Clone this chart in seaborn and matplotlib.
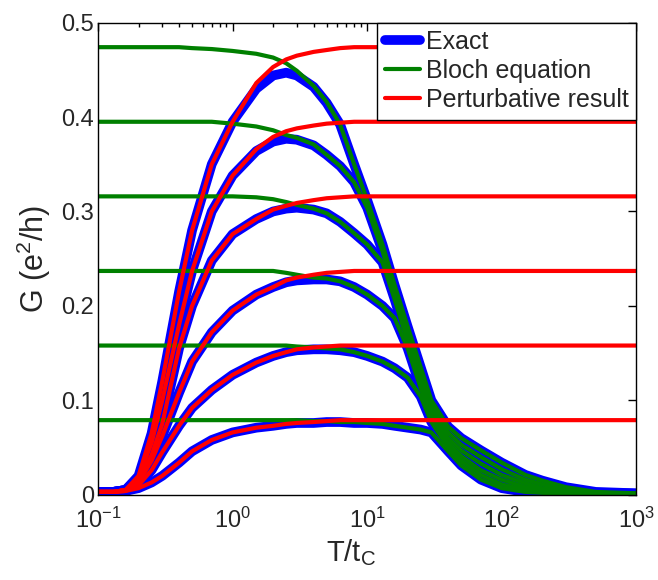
import numpy as np
import pandas as pd
import seaborn as sns
import matplotlib.pyplot as plt
from matplotlib.lines import Line2D

# temperature grid (T / t_C), shared by every curve
T = [0.1, 0.13, 0.16, 0.2, 0.25, 0.3, 0.4, 0.5, 0.7, 1, 1.5, 2, 2.5, 3, 4, 5, 6.3,
     8, 10, 13, 16, 20, 25, 30, 40, 50, 70, 100, 150, 200, 300, 500, 1000]

# exact conductance, one curve per level n
exact_1 = [0.003, 0.003, 0.004, 0.007, 0.013, 0.020, 0.034, 0.046, 0.058, 0.066, 0.071,
           0.073, 0.075, 0.076, 0.076, 0.077, 0.077, 0.076, 0.076, 0.075, 0.073, 0.071,
           0.069, 0.066, 0.046, 0.031, 0.016, 0.007, 0.003, 0.002, 0.001, 0.001, 0.001]
exact_2 = [0.003, 0.003, 0.004, 0.010, 0.026, 0.045, 0.073, 0.092, 0.111, 0.127, 0.140,
           0.147, 0.151, 0.153, 0.154, 0.154, 0.153, 0.151, 0.147, 0.141, 0.134, 0.124,
           0.104, 0.077, 0.050, 0.036, 0.021, 0.011, 0.005, 0.003, 0.0015, 0.001, 0.001]
exact_3 = [0.003, 0.003, 0.005, 0.013, 0.036, 0.062, 0.108, 0.141, 0.172, 0.195, 0.212,
           0.220, 0.225, 0.227, 0.228, 0.228, 0.226, 0.220, 0.212, 0.200, 0.187, 0.155,
           0.113, 0.082, 0.055, 0.041, 0.026, 0.016, 0.008, 0.005, 0.002, 0.001, 0.001]
exact_4 = [0.003, 0.003, 0.005, 0.015, 0.042, 0.075, 0.155, 0.200, 0.248, 0.276, 0.292,
           0.300, 0.303, 0.304, 0.302, 0.298, 0.289, 0.277, 0.265, 0.246, 0.207, 0.162,
           0.120, 0.088, 0.060, 0.047, 0.033, 0.021, 0.012, 0.007, 0.003, 0.0015, 0.001]
exact_5 = [0.003, 0.003, 0.005, 0.018, 0.055, 0.100, 0.180, 0.237, 0.300, 0.338, 0.364,
           0.374, 0.377, 0.376, 0.370, 0.360, 0.348, 0.331, 0.304, 0.258, 0.214, 0.170,
           0.127, 0.094, 0.066, 0.053, 0.040, 0.027, 0.016, 0.011, 0.005, 0.002, 0.001]
exact_6 = [0.003, 0.003, 0.005, 0.020, 0.065, 0.120, 0.215, 0.280, 0.350, 0.395, 0.430,
           0.444, 0.447, 0.444, 0.432, 0.415, 0.392, 0.350, 0.312, 0.265, 0.222, 0.178,
           0.135, 0.100, 0.072, 0.060, 0.047, 0.034, 0.021, 0.015, 0.008, 0.003, 0.0015]

# Bloch equation
bloch_1 = [0.079, 0.079, 0.079, 0.079, 0.079, 0.079, 0.079, 0.079, 0.079, 0.079, 0.079,
           0.079, 0.079, 0.079, 0.078, 0.078, 0.077, 0.077, 0.076, 0.075, 0.073, 0.071,
           0.069, 0.066, 0.046, 0.031, 0.016, 0.007, 0.003, 0.002, 0.001, 0.001, 0.001]
bloch_2 = [0.158, 0.158, 0.158, 0.158, 0.158, 0.158, 0.158, 0.158, 0.158, 0.158, 0.158,
           0.158, 0.158, 0.157, 0.156, 0.155, 0.154, 0.151, 0.147, 0.141, 0.134, 0.124,
           0.104, 0.077, 0.050, 0.036, 0.021, 0.011, 0.005, 0.003, 0.0015, 0.001, 0.001]
bloch_3 = [0.237, 0.237, 0.237, 0.237, 0.237, 0.237, 0.237, 0.237, 0.237, 0.237, 0.237,
           0.237, 0.235, 0.233, 0.230, 0.229, 0.226, 0.220, 0.212, 0.200, 0.187, 0.155,
           0.113, 0.082, 0.055, 0.041, 0.026, 0.016, 0.008, 0.005, 0.002, 0.001, 0.001]
bloch_4 = [0.316, 0.316, 0.316, 0.316, 0.316, 0.316, 0.316, 0.316, 0.316, 0.316, 0.315,
           0.313, 0.310, 0.307, 0.303, 0.298, 0.289, 0.277, 0.265, 0.246, 0.207, 0.162,
           0.120, 0.088, 0.060, 0.047, 0.033, 0.021, 0.012, 0.007, 0.003, 0.0015, 0.001]
bloch_5 = [0.395, 0.395, 0.395, 0.395, 0.395, 0.395, 0.395, 0.395, 0.395, 0.393, 0.390,
           0.386, 0.381, 0.378, 0.371, 0.360, 0.348, 0.331, 0.304, 0.258, 0.214, 0.170,
           0.127, 0.094, 0.066, 0.053, 0.040, 0.027, 0.016, 0.011, 0.005, 0.002, 0.001]
bloch_6 = [0.474, 0.474, 0.474, 0.474, 0.474, 0.474, 0.474, 0.473, 0.472, 0.470, 0.467,
           0.463, 0.457, 0.449, 0.433, 0.416, 0.392, 0.350, 0.312, 0.265, 0.222, 0.178,
           0.135, 0.100, 0.072, 0.060, 0.047, 0.034, 0.021, 0.015, 0.008, 0.003, 0.0015]

# perturbative result
pert_1 = [0.003, 0.003, 0.004, 0.007, 0.013, 0.020, 0.034, 0.046, 0.058, 0.066, 0.071,
          0.073, 0.075, 0.076, 0.077, 0.078, 0.079, 0.079, 0.079, 0.079, 0.079, 0.079,
          0.079, 0.079, 0.079, 0.079, 0.079, 0.079, 0.079, 0.079, 0.079, 0.079, 0.079]
pert_2 = [0.003, 0.003, 0.004, 0.010, 0.026, 0.045, 0.073, 0.092, 0.111, 0.127, 0.140,
          0.147, 0.151, 0.154, 0.156, 0.157, 0.158, 0.158, 0.158, 0.158, 0.158, 0.158,
          0.158, 0.158, 0.158, 0.158, 0.158, 0.158, 0.158, 0.158, 0.158, 0.158, 0.158]
pert_3 = [0.003, 0.003, 0.005, 0.013, 0.036, 0.062, 0.108, 0.141, 0.172, 0.195, 0.212,
          0.220, 0.227, 0.230, 0.233, 0.235, 0.236, 0.237, 0.237, 0.237, 0.237, 0.237,
          0.237, 0.237, 0.237, 0.237, 0.237, 0.237, 0.237, 0.237, 0.237, 0.237, 0.237]
pert_4 = [0.003, 0.003, 0.005, 0.015, 0.042, 0.075, 0.155, 0.200, 0.248, 0.276, 0.292,
          0.302, 0.306, 0.309, 0.312, 0.314, 0.315, 0.316, 0.316, 0.316, 0.316, 0.316,
          0.316, 0.316, 0.316, 0.316, 0.316, 0.316, 0.316, 0.316, 0.316, 0.316, 0.316]
pert_5 = [0.003, 0.003, 0.005, 0.018, 0.055, 0.100, 0.180, 0.237, 0.300, 0.338, 0.366,
          0.379, 0.385, 0.388, 0.391, 0.393, 0.394, 0.395, 0.395, 0.395, 0.395, 0.395,
          0.395, 0.395, 0.395, 0.395, 0.395, 0.395, 0.395, 0.395, 0.395, 0.395, 0.395]
pert_6 = [0.003, 0.003, 0.005, 0.020, 0.065, 0.120, 0.215, 0.280, 0.350, 0.395, 0.436,
          0.453, 0.461, 0.465, 0.469, 0.471, 0.473, 0.474, 0.474, 0.474, 0.474, 0.474,
          0.474, 0.474, 0.474, 0.474, 0.474, 0.474, 0.474, 0.474, 0.474, 0.474, 0.474]

y_ticks = [0, 0.1, 0.2, 0.3, 0.4, 0.5]
y_ticklabels = ['0', '0.1', '0.2', '0.3', '0.4', '0.5']
x_ticks = [0.1, 1, 10, 100, 1000]


def long_frame(curves):
    parts = [pd.DataFrame({'T': T, 'G': vals, 'n': n}) for n, vals in enumerate(curves, 1)]
    return pd.concat(parts, ignore_index=True)


exact = long_frame([exact_1, exact_2, exact_3, exact_4, exact_5, exact_6])
bloch = long_frame([bloch_1, bloch_2, bloch_3, bloch_4, bloch_5, bloch_6])
pert = long_frame([pert_1, pert_2, pert_3, pert_4, pert_5, pert_6])

sns.set_style('white')
plt.rcParams['font.family'] = ['Liberation Sans', 'DejaVu Sans']
plt.rcParams['mathtext.fontset'] = 'custom'
plt.rcParams['mathtext.rm'] = 'Liberation Sans'
plt.rcParams['mathtext.it'] = 'Liberation Sans:italic'

blue = (0, 0, 1)
green = (0, 0.5, 0)
red = (1, 0, 0)

fig, ax = plt.subplots(figsize=(6.58, 5.8), dpi=100)
fig.subplots_adjust(left=0.149, right=0.967, bottom=0.147, top=0.961)

sns.lineplot(data=exact, x='T', y='G', units='n', estimator=None, sort=False,
             color=blue, lw=7, ax=ax)
sns.lineplot(data=bloch, x='T', y='G', units='n', estimator=None, sort=False,
             color=green, lw=3, ax=ax)
sns.lineplot(data=pert, x='T', y='G', units='n', estimator=None, sort=False,
             color=red, lw=3, ax=ax)

ax.set_xscale('log')
ax.set_xlim(0.1, 1000)
ax.set_ylim(0, 0.5)
ax.set_xticks(x_ticks)
ax.set_yticks(y_ticks)
ax.set_yticklabels(y_ticklabels)
ax.tick_params(which='both', direction='in', top=True, right=True,
               labelsize=17, width=1, color='black')
ax.tick_params(which='major', length=6)
ax.tick_params(which='minor', length=3)
ax.tick_params(axis='x', which='major', pad=9)
ax.tick_params(axis='y', which='major', pad=3)
for sp in ax.spines.values():
    sp.set_color('black')
    sp.set_linewidth(1)

ax.set_xlabel('T/t$_\\mathregular{C}$', fontsize=21, labelpad=4)
ax.xaxis.set_label_coords(0.47, -0.09)
ax.set_ylabel('G (e$^\\mathregular{2}$/h)', fontsize=22, labelpad=6)

handles = [Line2D([], [], color=blue, lw=7),
           Line2D([], [], color=green, lw=3),
           Line2D([], [], color=red, lw=3)]
leg = ax.legend(handles, ['Exact', 'Bloch equation', 'Perturbative result'],
                loc='upper right', borderaxespad=0, fontsize=18, frameon=True,
                fancybox=False, framealpha=1, edgecolor='black',
                handlelength=1.4, handletextpad=0.25, labelspacing=0.2,
                borderpad=0.3)
leg.get_frame().set_linewidth(1)

fig.savefig('out.png', dpi=100)
